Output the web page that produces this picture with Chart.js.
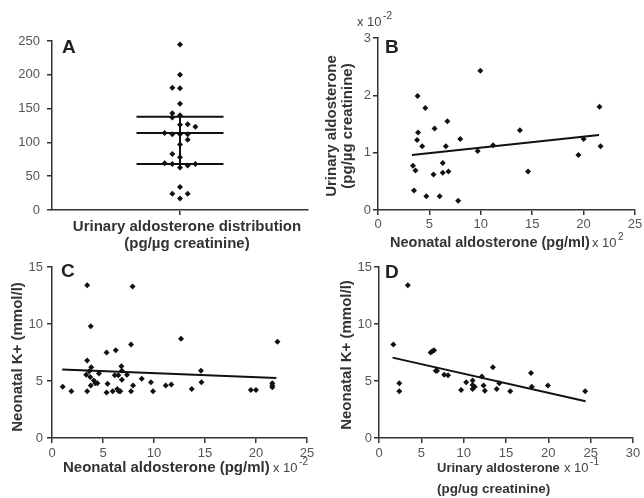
<!DOCTYPE html>
<html>
<head>
<meta charset="utf-8">
<script src="https://cdn.jsdelivr.net/npm/chart.js@4.4.1/dist/chart.umd.min.js"></script>
<style>
  body { margin: 0; background: #fff; }
  #wrap { position: relative; width: 644px; height: 498px; }
  #wrap canvas { position: absolute; left: 0; top: 0; }
</style>
</head>
<body>
<div id="wrap">
  <canvas id="chartA" width="644" height="498"></canvas>
  <canvas id="chartB" width="644" height="498"></canvas>
  <canvas id="chartC" width="644" height="498"></canvas>
  <canvas id="chartD" width="644" height="498"></canvas>
</div>
<script>
// --- A: распределение альдостерона в моче (x = сдвиг точки от центра) ---
const aJitter = [0, 0, -0.06, 0, 0, -0.06, 0, -0.06, 0, 0.06, 0.12, -0.12, -0.06, 0, 0.06,
                 0.06, 0, -0.06, 0, -0.12, -0.06, 0, 0.06, 0.12, 0, -0.06, 0.06, 0];
const aValues = [245, 200, 181, 180, 157, 143, 140, 137, 126, 127, 123, 114, 112, 112, 112,
                 104, 97, 83, 78, 69, 68, 63, 66, 68, 34, 24, 24, 17];
const aSummary = [138, 114, 68];      // верх, медиана, низ
const aSpread = [138, 64];            // вертикальная линия
const aBarHalf = 0.34;

// --- B: неонатальный альдостерон vs альдостерон в моче ---
const bX = [3.4, 3.65, 3.5, 3.85, 3.9, 3.8, 4.3, 4.7, 4.6, 5.5, 5.4, 6.0, 6.3, 6.3, 6.6, 6.75, 6.85,
            7.8, 8.0, 9.7, 9.95, 11.2, 13.8, 14.6, 19.5, 20.0, 21.55, 21.65];
const bY = [0.77, 0.69, 0.34, 1.99, 1.35, 1.22, 1.11, 0.24, 1.78, 1.42, 0.62, 0.24, 0.82, 0.65, 1.11,
            1.55, 0.67, 0.16, 1.24, 1.03, 2.43, 1.13, 1.39, 0.67, 0.96, 1.24, 1.80, 1.11];
const bFitX = [3.3, 21.5];
const bFitY = [0.96, 1.31];

// --- C: неонатальный альдостерон vs K+ ---
const cX = [1.05, 1.9, 3.45, 3.8, 3.45, 3.85, 3.35, 3.65, 3.75, 3.45, 3.8, 4.1, 4.25, 4.45, 4.6,
            5.35, 5.45, 5.35, 5.95, 6.25, 6.15, 6.5, 6.8, 6.85, 6.4, 6.55, 6.7, 6.85, 7.35, 7.75,
            7.9, 7.95, 7.75, 8.8, 9.7, 9.9, 11.15, 11.7, 12.65, 13.7, 14.6, 14.65, 19.5, 20.0,
            21.6, 21.6, 21.6, 22.1];
const cY = [4.5, 4.1, 13.4, 9.8, 6.8, 6.2, 5.55, 5.85, 5.35, 4.1, 4.6, 5.05, 4.8, 4.8, 5.65,
            7.5, 4.75, 4.0, 4.1, 7.7, 5.5, 5.5, 6.3, 5.9, 4.3, 4.1, 4.1, 5.1, 5.55, 8.2,
            13.3, 4.6, 4.1, 5.2, 4.9, 4.1, 4.6, 4.7, 8.7, 4.3, 5.9, 4.9, 4.2, 4.2,
            4.8, 4.6, 4.45, 8.45];
const cFitX = [1.0, 22.0];
const cFitY = [6.0, 5.26];

// --- D: альдостерон в моче vs K+ ---
const dX = [1.7, 2.4, 2.4, 3.4, 6.1, 6.3, 6.5, 6.7, 6.85, 7.7, 8.15, 9.7, 10.3, 11.05, 11.05,
            11.05, 11.3, 12.15, 12.35, 12.5, 13.45, 13.9, 14.2, 15.5, 17.95, 18.05, 19.95, 24.35];
const dY = [8.2, 4.8, 4.1, 13.4, 7.5, 7.6, 7.7, 5.9, 5.9, 5.55, 5.5, 4.2, 4.9, 5.05, 4.65,
            4.3, 4.5, 5.4, 4.6, 4.15, 6.2, 4.3, 4.8, 4.1, 5.7, 4.5, 4.6, 4.1];
const dFitX = [1.6, 24.4];
const dFitY = [7.05, 3.22];

const FONT = "'Liberation Sans', Arial, Helvetica, sans-serif";
Chart.defaults.font.family = FONT;

// Плагин для подписей (буквы панелей, названия осей, множители)
const textPlugin = {
    id: 'panelText',
    afterDraw(chart, args, opts) {
        const ctx = chart.ctx;
        (opts.items || []).forEach(it => {
            ctx.save();
            ctx.font = it.font;
            ctx.fillStyle = it.color || '#333';
            ctx.textAlign = it.align || 'left';
            ctx.textBaseline = 'alphabetic';
            ctx.translate(it.x, it.y);
            if (it.rotate) ctx.rotate(-Math.PI / 2);
            ctx.fillText(it.text, 0, 0);
            if (it.sup) {
                const w = ctx.measureText(it.text).width;
                ctx.font = '10px ' + FONT;
                ctx.fillText(it.sup, w + 1.5, -7);
            }
            ctx.restore();
        });
    }
};

const toPoints = (xs, ys) => xs.map((x, i) => ({ x: x, y: ys[i] }));

function axis(min, max, step, pad, isY, extra) {
    return Object.assign({
        type: 'linear',
        min: min,
        max: max,
        ticks: { stepSize: step, padding: pad, color: '#555', font: { size: 13 } },
        grid: { drawOnChartArea: false, drawTicks: true, tickLength: 5, color: '#333', lineWidth: 1.5 },
        border: { color: '#333', width: 1.5 },
        afterFit: s => {
            if (isY) s.width = 45; else s.height = 30;
            s.paddingLeft = s.paddingRight = s.paddingTop = s.paddingBottom = 0;
        }
    }, extra || {});
}

function pointSet(data) {
    return {
        data: data,
        pointStyle: 'rectRot',
        pointRadius: 3,
        backgroundColor: '#111',
        borderColor: '#111',
        borderWidth: 0,
        showLine: false
    };
}

function lineSet(data) {
    return {
        data: data,
        showLine: true,
        borderColor: '#111',
        borderWidth: 2,
        pointRadius: 0,
        fill: false
    };
}

function makeChart(id, area, xScale, yScale, datasets, items) {
    return new Chart(document.getElementById(id), {
        type: 'scatter',
        data: { datasets: datasets },
        options: {
            responsive: false,
            animation: false,
            events: [],
            devicePixelRatio: 1,
            layout: {
                padding: {
                    left: area.x0 - 45,
                    top: area.y0,
                    right: 644 - area.x1,
                    bottom: 498 - area.y1 - 30
                }
            },
            scales: { x: xScale, y: yScale },
            plugins: {
                legend: { display: false },
                tooltip: { enabled: false },
                panelText: { items: items }
            }
        },
        plugins: [textPlugin]
    });
}

const letterFont = 'bold 19px ' + FONT;
const titleFont = 'bold 15px ' + FONT;
const expFont = '13px ' + FONT;

// A
makeChart('chartA', { x0: 52, y0: 41, x1: 308, y1: 210 },
    axis(-1, 1, 1, 2, false, {
        afterBuildTicks: s => { s.ticks = [{ value: 0 }]; },
        ticks: { callback: () => '' }
    }),
    axis(0, 250, 50, 7, true),
    [pointSet(toPoints(aJitter, aValues))]
        .concat(aSummary.map(v => lineSet([{ x: -aBarHalf, y: v }, { x: aBarHalf, y: v }])))
        .concat([lineSet([{ x: 0, y: aSpread[0] }, { x: 0, y: aSpread[1] }])]),
    [
        { text: 'A', x: 62, y: 53, font: letterFont, color: '#222' },
        { text: 'Urinary aldosterone distribution', x: 187, y: 231, align: 'center', font: titleFont },
        { text: '(pg/µg creatinine)', x: 187, y: 248, align: 'center', font: titleFont }
    ]);

// B
makeChart('chartB', { x0: 378, y0: 38, x1: 635, y1: 210 },
    axis(0, 25, 5, 2, false),
    axis(0, 3, 1, 2, true),
    [pointSet(toPoints(bX, bY)), lineSet(toPoints(bFitX, bFitY))],
    [
        { text: 'B', x: 385, y: 53, font: letterFont, color: '#222' },
        { text: 'Urinary aldosterone', x: 336, y: 126, rotate: true, align: 'center', font: titleFont },
        { text: '(pg/µg creatinine)', x: 352, y: 126, rotate: true, align: 'center', font: titleFont },
        { text: 'x 10', x: 357, y: 26, font: expFont, color: '#444', sup: '-2' },
        { text: 'Neonatal aldosterone (pg/ml)', x: 390, y: 247, font: 'bold 14.5px ' + FONT },
        { text: 'x 10', x: 592, y: 247, font: expFont, color: '#444', sup: '2' }
    ]);

// C
makeChart('chartC', { x0: 52, y0: 267, x1: 307, y1: 438 },
    axis(0, 25, 5, 3, false),
    axis(0, 15, 5, 4, true),
    [pointSet(toPoints(cX, cY)), lineSet(toPoints(cFitX, cFitY))],
    [
        { text: 'C', x: 61, y: 277, font: letterFont, color: '#222' },
        { text: 'Neonatal K+ (mmol/l)', x: 22, y: 357, rotate: true, align: 'center', font: titleFont },
        { text: 'Neonatal aldosterone (pg/ml)', x: 63, y: 472, font: titleFont },
        { text: 'x 10', x: 273, y: 472, font: expFont, color: '#444', sup: '-2' }
    ]);

// D
makeChart('chartD', { x0: 379, y0: 267, x1: 633, y1: 438 },
    axis(0, 30, 5, 3, false),
    axis(0, 15, 5, 2, true),
    [pointSet(toPoints(dX, dY)), lineSet(toPoints(dFitX, dFitY))],
    [
        { text: 'D', x: 385, y: 278, font: letterFont, color: '#222' },
        { text: 'Neonatal K+ (mmol/l)', x: 351, y: 355, rotate: true, align: 'center', font: titleFont },
        { text: 'Urinary aldosterone', x: 437, y: 472, font: 'bold 13px ' + FONT },
        { text: 'x 10', x: 564, y: 472, font: expFont, color: '#444', sup: '-1' },
        { text: '(pg/ug creatinine)', x: 437, y: 493, font: 'bold 13.5px ' + FONT }
    ]);
</script>
</body>
</html>
